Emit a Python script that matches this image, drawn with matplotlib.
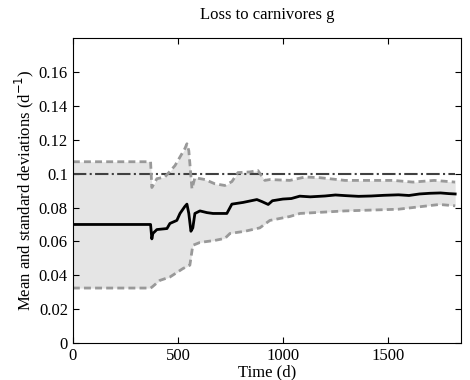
import matplotlib
matplotlib.use('Agg')
import matplotlib.pyplot as plt
import numpy as np

# mean (solid black)
t_mean = [0, 370, 376, 381, 400, 448, 462, 495, 510, 533, 543, 552, 562, 571, 581, 605, 638,
          667, 733, 757, 810, 876, 900, 930, 950, 1000, 1040, 1080, 1130, 1200, 1250, 1300,
          1360, 1420, 1480, 1550, 1600, 1650, 1700, 1750, 1790, 1820]
mean = [0.070, 0.070, 0.0615, 0.0647, 0.067, 0.0676, 0.0706, 0.0724, 0.0765, 0.0806, 0.082,
        0.0765, 0.066, 0.068, 0.0765, 0.078, 0.077, 0.0765, 0.0765, 0.082, 0.083, 0.0847,
        0.0835, 0.0818, 0.084, 0.085, 0.0853, 0.0867, 0.0863, 0.0868, 0.0874, 0.087, 0.0866,
        0.0868, 0.0872, 0.0875, 0.0871, 0.088, 0.0884, 0.0886, 0.0882, 0.088]

# upper std (dashed grey)
t_up = [0, 370, 376, 400, 438, 486, 533, 543, 552, 567, 581, 629, 676, 724, 757, 786, 843, 881,
        890, 914, 938, 1033, 1105, 1176, 1295, 1400, 1524, 1619, 1720, 1820]
upper = [0.107, 0.107, 0.0918, 0.097, 0.098, 0.1047, 0.1147, 0.1176, 0.1135, 0.091, 0.0976,
         0.0965, 0.094, 0.093, 0.0953, 0.1006, 0.101, 0.1018, 0.1002, 0.096, 0.0965, 0.096,
         0.098, 0.0976, 0.096, 0.096, 0.096, 0.095, 0.096, 0.095]

# lower std (dashed grey)
t_lo = [0, 370, 376, 414, 462, 524, 557, 571, 605, 676, 724, 748, 819, 890, 938, 1033, 1081,
        1295, 1550, 1745, 1820]
lower = [0.0325, 0.0325, 0.033, 0.037, 0.039, 0.044, 0.046, 0.0577, 0.0594, 0.0606, 0.0618,
         0.0647, 0.066, 0.068, 0.0724, 0.0747, 0.0765, 0.078, 0.079, 0.0818, 0.081]

# reference level (dash-dot)
t_ref = [0, 1820]
ref = [0.1, 0.1]

plt.rcParams['font.family'] = 'Liberation Serif'
fig = plt.figure(figsize=(4.7, 3.8), dpi=100)
ax = fig.add_axes([0.155, 0.097, 0.826, 0.803])

t_all = np.unique(np.concatenate([t_up, t_lo]))
ax.fill_between(t_all, np.interp(t_all, t_up, upper), np.interp(t_all, t_lo, lower),
                color='#e5e5e5', lw=0)
ax.plot(t_ref, ref, '-.', color='#404040', lw=1.5)
ax.plot(t_up, upper, '--', color='#999999', lw=2, dashes=(2.5, 1.5))
ax.plot(t_lo, lower, '--', color='#999999', lw=2, dashes=(2.5, 1.5))
ax.plot(t_mean, mean, '-', color='black', lw=2)

ax.set_xlim(0, 1848)
ax.set_ylim(0, 0.18)
ax.set_xticks([0, 500, 1000, 1500])
ax.set_yticks([0, 0.02, 0.04, 0.06, 0.08, 0.1, 0.12, 0.14, 0.16])
ax.set_yticklabels(['0', '0.02', '0.04', '0.06', '0.08', '0.1', '0.12', '0.14', '0.16'])
ax.tick_params(direction='in', top=True, right=True, labelsize=12, length=4)
ax.set_title('Loss to carnivores g', fontsize=12, pad=14)
ax.set_xlabel('Time (d)', fontsize=12, labelpad=0)
ax.set_ylabel('Mean and standard deviations (d$^{-1}$)', fontsize=12, labelpad=2)

fig.savefig('out.png', dpi=100)
